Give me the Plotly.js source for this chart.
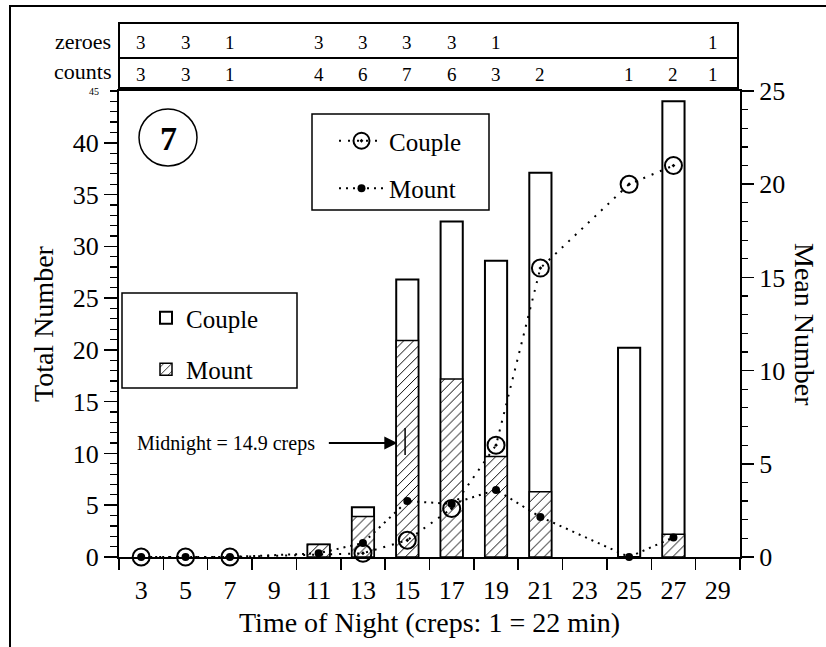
<!DOCTYPE html>
<html>
<head>
<meta charset="utf-8">
<script src="https://cdn.plot.ly/plotly-3.0.1.min.js"></script>
<style>html,body{margin:0;padding:0;background:#fff;}#chart{width:826px;height:647px;}</style>
</head>
<body>
<div id="chart"></div>
<script>
// ---- data ----
const barX = [11, 13, 15, 17, 19, 21, 25, 27];
const coupleTotal = [1.2, 4.8, 26.8, 32.4, 28.6, 37.1, 20.2, 44.0];
const mountTotal = [1.2, 3.9, 20.9, 17.2, 9.7, 6.3, 0, 2.2];

const coupleMeanX = [3, 5, 7, 13, 15, 17, 19, 21, 25, 27];
const coupleMean = [0, 0, 0, 0.2, 0.9, 2.6, 6.0, 15.5, 20.0, 21.0];
const mountMeanX = [3, 5, 7, 11, 13, 15, 17, 19, 21, 25, 27];
const mountMean = [0, 0, 0, 0.2, 0.75, 3.0, 2.85, 3.6, 2.15, 0, 1.05];

const zeroesX = [3, 5, 7, 11, 13, 15, 17, 19, 28.8];
const zeroesN = [3, 3, 1, 3, 3, 3, 3, 1, 1];
const countsX = [3, 5, 7, 11, 13, 15, 17, 19, 21, 25, 27, 28.8];
const countsN = [3, 3, 1, 4, 6, 7, 6, 3, 2, 1, 2, 1];

const xLabelVals = [3, 5, 7, 9, 11, 13, 15, 17, 19, 21, 23, 25, 27, 29];
const xTickVals = [2, 4, 6, 8, 10, 12, 14, 16, 18, 20, 22, 24, 26, 28, 30];
const yLeftTicks = [0, 5, 10, 15, 20, 25, 30, 35, 40];
const yRightTicks = [0, 5, 10, 15, 20, 25];

const MIDNIGHT = 14.9;
const MIDNIGHT_LABEL = 'Midnight = 14.9 creps';
const PANEL_LABEL = '7';

// ---- styling ----
const FONT = 'Liberation Serif, Times New Roman, serif';
const BLACK = '#000';

const traces = [
  {
    type: 'bar', x: barX, y: coupleTotal, width: 1, name: 'Couple',
    marker: {color: '#fff', line: {color: BLACK, width: 2}},
    legend: 'legend2', legendgroup: 'b1', hoverinfo: 'skip'
  },
  {
    type: 'bar', x: barX, y: mountTotal, width: 1, name: 'Mount',
    marker: {color: '#fff', line: {color: BLACK, width: 1.5},
      pattern: {shape: '/', fgcolor: BLACK, bgcolor: '#fff', size: 7, solidity: 0.14}},
    legend: 'legend2', legendgroup: 'b2', hoverinfo: 'skip'
  },
  {
    type: 'scatter', mode: 'lines+markers', x: coupleMeanX, y: coupleMean, yaxis: 'y2',
    name: 'Couple', cliponaxis: false,
    line: {color: BLACK, width: 2, dash: '2px,7px'},
    marker: {symbol: 'circle-open-dot', size: 17, color: BLACK, line: {color: BLACK, width: 2}},
    legend: 'legend', legendgroup: 'l1', hoverinfo: 'skip'
  },
  {
    type: 'scatter', mode: 'lines+markers', x: mountMeanX, y: mountMean, yaxis: 'y2',
    name: 'Mount', cliponaxis: false,
    line: {color: BLACK, width: 2, dash: '2px,5px'},
    marker: {symbol: 'circle', size: 8, color: BLACK},
    legend: 'legend', legendgroup: 'l2', hoverinfo: 'skip'
  }
];

// pixel helpers for the paper frame
const L = 119, R = 740, T = 91, B = 557;
const px = v => (v - L) / (R - L);
const py = v => (B - v) / (B - T);

const annotations = [];
zeroesX.forEach((x, i) => annotations.push({
  xref: 'x', yref: 'paper', x: x, y: py(43), text: String(zeroesN[i]), showarrow: false,
  font: {size: 19, family: FONT}, xanchor: 'center', yanchor: 'middle'
}));
countsX.forEach((x, i) => annotations.push({
  xref: 'x', yref: 'paper', x: x, y: py(74), text: String(countsN[i]), showarrow: false,
  font: {size: 19, family: FONT}, xanchor: 'center', yanchor: 'middle'
}));
annotations.push(
  {xref: 'paper', yref: 'paper', x: px(113), y: py(42), text: 'zeroes', showarrow: false,
   font: {size: 22, family: FONT}, xanchor: 'right', yanchor: 'middle'},
  {xref: 'paper', yref: 'paper', x: px(113), y: py(72), text: 'counts', showarrow: false,
   font: {size: 22, family: FONT}, xanchor: 'right', yanchor: 'middle'},
  {xref: 'paper', yref: 'paper', x: px(101), y: 1, text: '45', showarrow: false,
   font: {size: 10, family: FONT}, xanchor: 'right', yanchor: 'middle'},
  {xref: 'paper', yref: 'paper', x: px(168), y: py(138), text: '<b>' + PANEL_LABEL + '</b>', showarrow: false,
   font: {size: 34, family: FONT}, xanchor: 'center', yanchor: 'middle'},
  {xref: 'paper', yref: 'paper', x: px(43), y: 0.5, text: 'Total Number', showarrow: false,
   textangle: -90, font: {size: 28, family: FONT}, xanchor: 'center', yanchor: 'middle'},
  {xref: 'paper', yref: 'paper', x: px(805), y: 0.5, text: 'Mean Number', showarrow: false,
   textangle: 90, font: {size: 28, family: FONT}, xanchor: 'center', yanchor: 'middle'},
  {xref: 'paper', yref: 'paper', x: 0.5, y: py(622), text: 'Time of Night (creps: 1 = 22 min)', showarrow: false,
   font: {size: 28, family: FONT}, xanchor: 'center', yanchor: 'middle'},
  {xref: 'paper', yref: 'y', x: px(226), y: 11.0, text: MIDNIGHT_LABEL, showarrow: false,
   font: {size: 20, family: FONT}, xanchor: 'center', yanchor: 'middle'},
  {xref: 'x', yref: 'y', x: MIDNIGHT - 0.35, y: 11.0, text: '', showarrow: true,
   ax: -70, ay: 0, arrowhead: 2, arrowsize: 1.3, arrowwidth: 2, arrowcolor: BLACK}
);

const shapes = [
  // header table
  {type: 'rect', xref: 'paper', yref: 'paper', x0: 0, x1: px(738), y0: py(88), y1: py(23),
   line: {color: BLACK, width: 2}},
  {type: 'line', xref: 'paper', yref: 'paper', x0: 0, x1: px(738), y0: py(58), y1: py(58),
   line: {color: BLACK, width: 2}},
  // panel circle
  {type: 'circle', xref: 'paper', yref: 'paper', x0: px(139), x1: px(197), y0: py(166), y1: py(109),
   line: {color: BLACK, width: 1.5}},
  // legend boxes
  {type: 'rect', xref: 'paper', yref: 'paper', x0: px(312), x1: px(489), y0: py(210), y1: py(114),
   line: {color: BLACK, width: 1.5}},
  {type: 'rect', xref: 'paper', yref: 'paper', x0: px(122), x1: px(297), y0: py(388), y1: py(293),
   line: {color: BLACK, width: 1.5}},
  // midnight marker
  {type: 'line', xref: 'x', yref: 'y', x0: MIDNIGHT, x1: MIDNIGHT, y0: 9.85, y1: 12.45,
   line: {color: BLACK, width: 1.5}},
  // outer frame (left and top edges of the scanned figure)
  {type: 'path', xref: 'paper', yref: 'paper',
   path: `M ${px(10)},${py(647)} L ${px(10)},${py(6)} L ${px(826)},${py(6)}`,
   line: {color: BLACK, width: 2}}
];

const layout = {
  width: 826, height: 647,
  margin: {l: 119, r: 86, t: 91, b: 90, pad: 0},
  paper_bgcolor: '#fff', plot_bgcolor: '#fff',
  font: {family: FONT, color: BLACK, size: 26},
  barmode: 'overlay',
  showlegend: true,
  xaxis: {
    range: [2, 30], tickmode: 'array', tickvals: xLabelVals, ticktext: xLabelVals.map(String),
    ticks: 'outside', ticklen: 9, tickcolor: 'rgba(0,0,0,0)',
    showline: true, linecolor: BLACK, linewidth: 2, mirror: true,
    showgrid: false, zeroline: false, tickfont: {size: 26, family: FONT},
    minor: {tickmode: 'array', tickvals: xTickVals, ticks: 'outside', ticklen: 11, tickwidth: 1.5, tickcolor: BLACK}
  },
  yaxis: {
    range: [0, 45], tickmode: 'array', tickvals: yLeftTicks,
    ticks: 'outside', ticklen: 13, tickwidth: 1.5, tickcolor: BLACK,
    showline: true, linecolor: BLACK, linewidth: 2,
    showgrid: false, zeroline: false, tickfont: {size: 26, family: FONT},
    minor: {dtick: 1, ticks: 'outside', ticklen: 7, tickwidth: 1.2, tickcolor: BLACK}
  },
  yaxis2: {
    overlaying: 'y', side: 'right', range: [0, 25], tickmode: 'array', tickvals: yRightTicks,
    ticks: 'outside', ticklen: 12, tickwidth: 1.5, tickcolor: BLACK,
    showline: true, linecolor: BLACK, linewidth: 2,
    showgrid: false, zeroline: false, tickfont: {size: 26, family: FONT},
    minor: {dtick: 1, ticks: 'outside', ticklen: 6, tickwidth: 1.2, tickcolor: BLACK}
  },
  legend: {
    x: px(334), y: py(118), xanchor: 'left', yanchor: 'top',
    bgcolor: 'rgba(0,0,0,0)', borderwidth: 0, font: {size: 25, family: FONT},
    tracegroupgap: 12, itemwidth: 45, traceorder: 'grouped'
  },
  legend2: {
    x: px(146), y: py(295), xanchor: 'left', yanchor: 'top',
    bgcolor: 'rgba(0,0,0,0)', borderwidth: 0, font: {size: 25, family: FONT},
    tracegroupgap: 16, traceorder: 'grouped'
  },
  shapes: shapes,
  annotations: annotations
};

Plotly.newPlot('chart', traces, layout, {staticPlot: true, displayModeBar: false});
</script>
</body>
</html>
